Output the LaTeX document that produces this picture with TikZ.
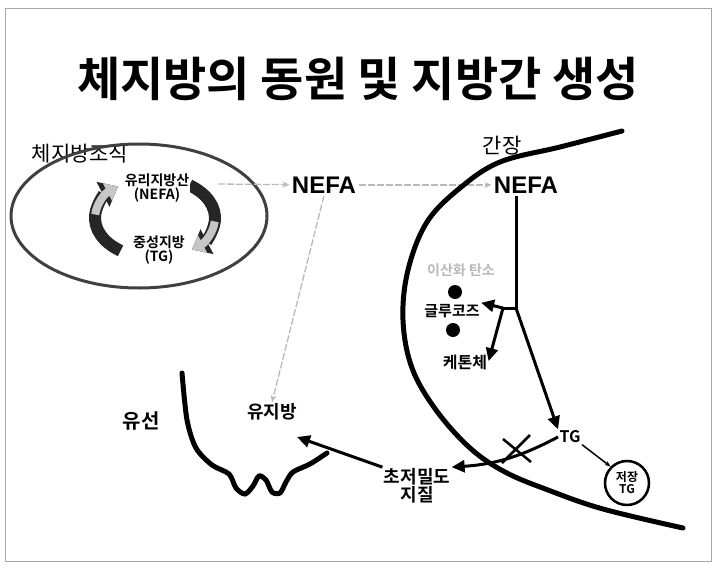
\documentclass[tikz,border=0pt]{standalone}
\usepackage{fontspec}
\setmainfont{Liberation Sans}
\newfontfamily\kr{Noto Sans CJK KR}[BoldFont={Noto Sans CJK KR Bold}]
\usepackage{tikz}
\usetikzlibrary{arrows.meta}

\begin{document}
\begin{tikzpicture}[x=1pt, y=-1pt, line width=1pt,
  title/.style={font=\kr\bfseries\fontsize{47}{50}\selectfont},
  place/.style={font=\kr\fontsize{21}{24}\selectfont},
  kor/.style={font=\kr\bfseries\fontsize{#1}{#1}\selectfont, align=center, inner sep=1pt},
  nefa/.style={font=\bfseries\fontsize{24}{26}\selectfont, inner sep=2pt},
  flux/.style={color=gray!55, line width=1.3pt, dash pattern=on 7pt off 2pt, -{Stealth[length=7pt, width=6pt]}},
  path/.style={color=black, line width=3pt, -{Triangle[length=13pt, width=12pt]}},
  cycdark/.style={color=black!85, line width=12pt, -{Triangle[length=17pt, width=27pt]}},
  cyclight/.style={color=gray!45, line width=8pt, -{Triangle[length=12pt, width=19pt]}}]

\useasboundingbox (0,0) rectangle (716,565);

% slide frame
\draw[color=gray!70, line width=0.8pt] (5,8) rectangle (711,561);

% title and region labels
\node[title] (title) at (358,79) {체지방의 동원 및 지방간 생성};
\node[place] (adipose) at (80,154) {체지방조직};
\node[place] (liver) at (502,146) {간장};
\node[place, font=\kr\bfseries\fontsize{20}{22}\selectfont] (gland) at (141,421) {유선};

% adipose tissue
\draw[color=gray!50!black, line width=3pt] (139,216) ellipse [x radius=128, y radius=72];

% lipolysis / re-esterification cycle
\coordinate (cyc) at (155,218);
\draw[cycdark] ([shift={(125:60 and 40)}]cyc) arc [start angle=125, end angle=232, x radius=60, y radius=40];
\draw[cyclight] ([shift={(185:60 and 40)}]cyc) arc [start angle=185, end angle=232, x radius=60, y radius=40];
\draw[cycdark] ([shift={(-55:60 and 40)}]cyc) arc [start angle=-55, end angle=52, x radius=60, y radius=40];
\draw[cyclight] ([shift={(5:60 and 40)}]cyc) arc [start angle=5, end angle=52, x radius=60, y radius=40];

\node[kor=14, fill=white] (ffa) at (157,188) {유리지방산\\(NEFA)};
\node[kor=14, fill=white] (tg) at (159,250) {중성지방\\(TG)};

% free fatty acids in the blood
\coordinate (release) at (218,184);
\node[nefa] (nefa) at (324,185) {NEFA};
\node[nefa] (nefaliv) at (526,185) {NEFA};
\node[kor=18] (milkfat) at (272,412) {유지방};

\draw[flux] (release) -- (nefa);
\draw[flux] (nefa) -- (nefaliv);
\draw[flux] (nefa.south) -- (milkfat.north);

% liver boundary
\draw[line width=5pt, line cap=round] plot[smooth, tension=0.6] coordinates {
  (622,131) (560,147) (500,162) (460,188) (427,222) (408,270) (403,320)
  (412,368) (436,410) (470,448) (505,472) (548,490) (603,509) (683,528)};

% mammary gland
\draw[line width=5pt, line cap=round] plot[smooth, tension=0.5] coordinates {
  (182,373) (187,420) (196,448) (212,465) (229,474) (236,488) (245,494)
  (253,486) (259,476) (266,480) (272,492) (280,493) (286,482) (293,472)
  (310,464) (327,453)};

% fate of NEFA in the liver
\node[kor=14, text=gray!55] (co2) at (461,270) {이산화 탄소};
\fill (455,292) circle (7);
\node[kor=15] (glucose) at (452,311) {글루코즈};
\fill (453,330) circle (7);
\node[kor=16] (ketone) at (465,362) {케톤체};
\node[kor=16] (tgliv) at (570,437) {TG};
\node[draw, circle, line width=2.5pt, minimum size=44pt, kor=12, inner sep=0pt] (store) at (627,483) {저장\\TG};
\node[kor=18] (vldl) at (417,486) {초저밀도\\지질};

\coordinate (fork) at (516,308);
\coordinate (split) at (503,308);
\coordinate (uptake) at (297,437);

\draw[line width=3pt] (nefaliv.south -| fork) -- (fork) -- (split);
\draw[path] (split) -- (glucose.north east);
\draw[path] (split) -- ([yshift=-8pt]ketone.north east);
\draw[path] (fork) -- (tgliv.north west);
\draw[line width=1.5pt, -{Stealth[length=6pt]}] (tgliv.south east) -- (store.north west);
\draw[path] (tgliv.west) to[bend left=12] (vldl.north east);
\draw[path] (vldl.north west) -- (uptake);

% blocked secretion
\coordinate (block) at (517,450);
\draw[line width=2.5pt] ([shift={(-14,-11)}]block) -- ([shift={(14,12)}]block)
                        ([shift={(-15,13)}]block) -- ([shift={(13,-15)}]block);

\end{tikzpicture}
\end{document}
